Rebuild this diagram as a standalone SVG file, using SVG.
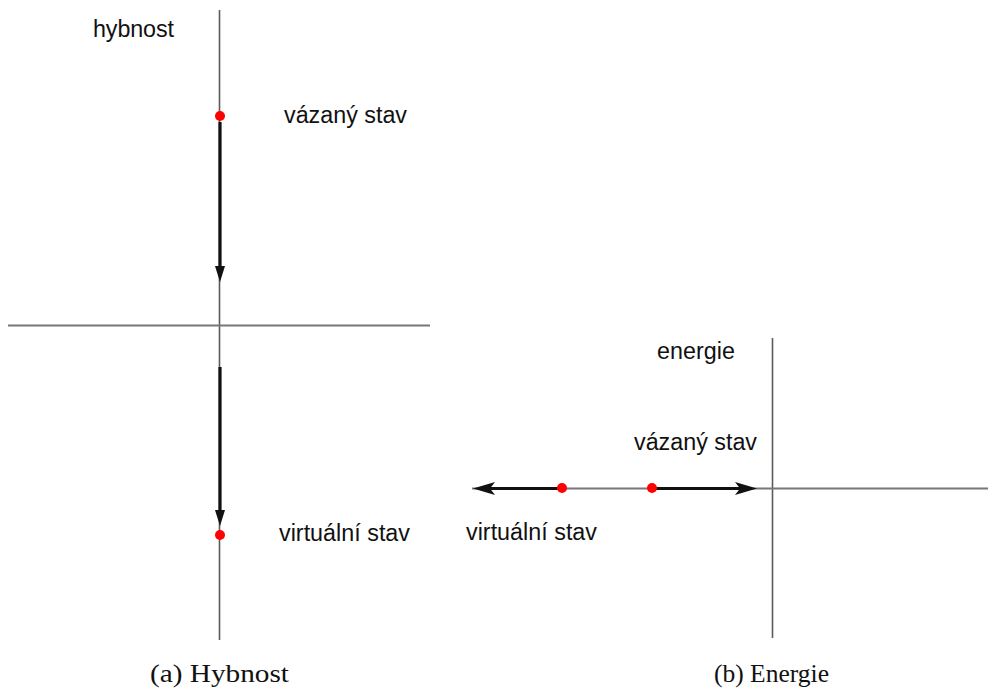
<svg xmlns="http://www.w3.org/2000/svg" width="988" height="690" viewBox="0 0 988 690">
  <style>
    .axis { stroke: #5a5a5a; stroke-width: 1.6; fill: none; }
    .axis-h { stroke: #777; stroke-width: 2; fill: none; }
    .arrow { stroke: #111; stroke-width: 3.2; fill: none; }
    .head { fill: #111; }
    .dot { fill: #ff0000; }
    .lbl { font-family: "Liberation Sans", Arial, sans-serif; font-size: 23.3px; fill: #111; }
    .cap { font-family: "Liberation Serif", "Times New Roman", serif; font-size: 26px; fill: #111; }
  </style>

  <!-- (a) momentum plane -->
  <g id="panel-a-axes">
    <line class="axis" x1="219.5" y1="10" x2="219.5" y2="640"/>
    <line class="axis-h" x1="8" y1="325.5" x2="430" y2="325.5"/>
  </g>
  <g id="panel-a-connectors">
    <line class="arrow" x1="220" y1="122" x2="220" y2="268"/>
    <polygon class="head" points="215,266 225,266 220,282"/>
    <line class="arrow" x1="220" y1="367" x2="220" y2="512"/>
    <polygon class="head" points="215,510 225,510 220,526"/>
  </g>
  <g id="bound-state-a">
    <circle class="dot" cx="220" cy="116" r="5"/>
    <text class="lbl" x="284" y="123" textLength="123">vázaný stav</text>
  </g>
  <g id="virtual-state-a">
    <circle class="dot" cx="220" cy="535" r="5"/>
    <text class="lbl" x="279" y="541" textLength="131">virtuální stav</text>
  </g>
  <text id="label-hybnost" class="lbl" x="93" y="37" textLength="81">hybnost</text>
  <text id="caption-a" class="cap" x="150" y="682" textLength="139" lengthAdjust="spacingAndGlyphs">(a) Hybnost</text>

  <!-- (b) energy plane -->
  <g id="panel-b-axes">
    <line class="axis" x1="772.5" y1="338" x2="772.5" y2="638"/>
    <line class="axis-h" x1="472" y1="488.5" x2="988" y2="488.5"/>
  </g>
  <g id="panel-b-connectors">
    <line class="arrow" x1="562" y1="488.5" x2="490" y2="488.5"/>
    <polygon class="head" points="473,488.5 495,482 490,488.5 495,495"/>
    <line class="arrow" x1="652" y1="488.5" x2="740" y2="488.5"/>
    <polygon class="head" points="757,488.5 735,482 740,488.5 735,495"/>
  </g>
  <g id="virtual-state-b">
    <circle class="dot" cx="562" cy="488" r="5"/>
    <text class="lbl" x="466" y="540" textLength="131">virtuální stav</text>
  </g>
  <g id="bound-state-b">
    <circle class="dot" cx="652" cy="488" r="5"/>
    <text class="lbl" x="634" y="450" textLength="123">vázaný stav</text>
  </g>
  <text id="label-energie" class="lbl" x="657" y="359" textLength="78">energie</text>
  <text id="caption-b" class="cap" x="714" y="682" textLength="115" lengthAdjust="spacingAndGlyphs">(b) Energie</text>
</svg>
